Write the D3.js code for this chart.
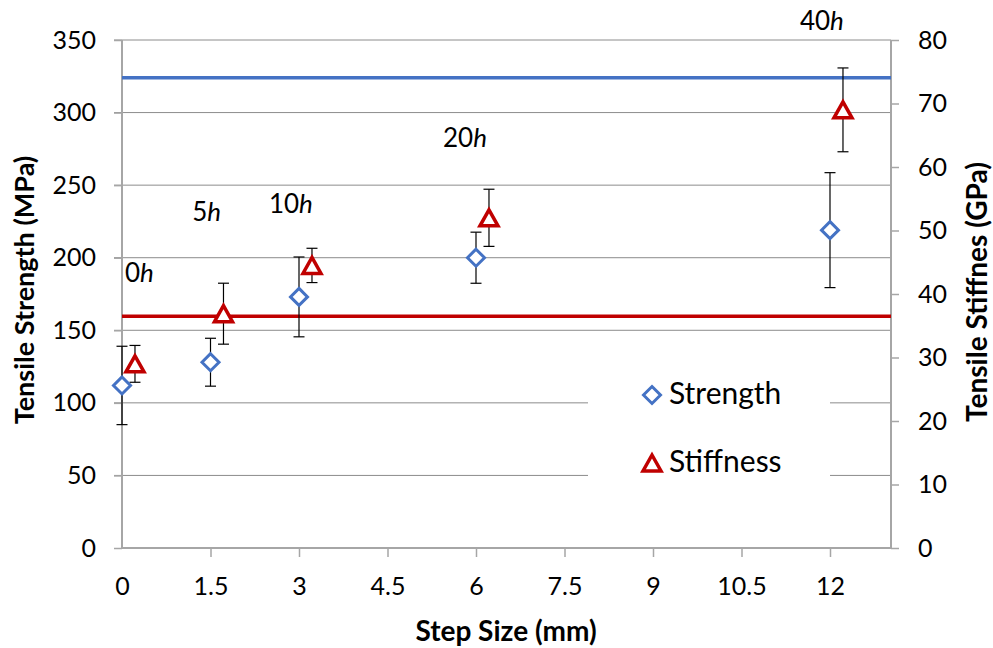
<!DOCTYPE html>
<html><head><meta charset="utf-8">
<script src="https://cdn.jsdelivr.net/npm/d3@7"></script>
<style>body{margin:0;background:#fff}svg{display:block}text{font-family:Lato,"Open Sans",sans-serif}</style>
</head><body><svg id="c" width="993" height="648"></svg>
<script>
const stepSizes = [0, 1.5, 3, 6, 12];
const stiffOffset = 0.22;
const strength = [112, 128, 173, 200, 219];
const strengthErr = [27, 16.5, 27.5, 17.6, 39.6];
const stiffness = [29.0, 36.9, 44.5, 52.0, 69.0];
const stiffnessErr = [2.9, 4.8, 2.7, 4.5, 6.6];
const labels = ["0h", "5h", "10h", "20h", "40h"];
const labelPos = [[0.05, 183.3], [1.19, 225.5], [2.49, 230.6], [5.44, 276.5], [11.49, 357]];
const refStrength = 324;
const refStiffness = 36.5;
const xTicks = [0, 1.5, 3, 4.5, 6, 7.5, 9, 10.5, 12];
const yLeftTicks = [0, 50, 100, 150, 200, 250, 300, 350];
const yRightTicks = [0, 10, 20, 30, 40, 50, 60, 70, 80];

const svg = d3.select("#c");
const L = 122, R = 891, T = 40, B = 548;
const x = d3.scaleLinear().domain([0, 13]).range([L, L + 13 * 59]);
const yL = d3.scaleLinear().domain([0, 350]).range([B, T]);
const yR = d3.scaleLinear().domain([0, 80]).range([B, T]);
const blue = "#4472C4", red = "#C00000", grid = "#8c8c8c", axisC = "#a6a6a6";

// gridlines
svg.append("g").selectAll("line").data(yLeftTicks.filter(d => d > 0)).join("line")
  .attr("x1", L - 8).attr("x2", R).attr("y1", d => yL(d)).attr("y2", d => yL(d))
  .attr("stroke", grid).attr("stroke-width", 1);

// axes
const ax = svg.append("g").attr("transform", `translate(0,${B})`)
  .call(d3.axisBottom(x).tickValues(xTicks).tickSize(9).tickPadding(20).tickFormat(d => String(d)));
const ayl = svg.append("g").attr("transform", `translate(${L},0)`)
  .call(d3.axisLeft(yL).tickValues(yLeftTicks).tickSize(8).tickPadding(18));
const ayr = svg.append("g").attr("transform", `translate(${R},0)`)
  .call(d3.axisRight(yR).tickValues(yRightTicks).tickSize(8).tickPadding(19));
[ax, ayl, ayr].forEach(g => {
  g.select(".domain").remove();
  g.selectAll(".tick line").attr("stroke", axisC).attr("stroke-width", 1.5);
  g.selectAll(".tick text").attr("font-size", 25).attr("fill", "#000");
});
ax.selectAll(".tick line").filter(d => d === 0).remove();
svg.append("line").attr("x1", L).attr("x2", R).attr("y1", B).attr("y2", B).attr("stroke", axisC).attr("stroke-width", 2);
svg.append("line").attr("x1", L).attr("x2", L).attr("y1", T).attr("y2", B).attr("stroke", axisC).attr("stroke-width", 2);
svg.append("line").attr("x1", R).attr("x2", R).attr("y1", T).attr("y2", B).attr("stroke", axisC).attr("stroke-width", 2);

// legend background
const lg = svg.append("g");
lg.append("rect").attr("x", 588).attr("y", 368).attr("width", 242).attr("height", 124).attr("fill", "#fff");

// reference lines
svg.append("line").attr("x1", L).attr("x2", R).attr("y1", yL(refStrength)).attr("y2", yL(refStrength))
  .attr("stroke", blue).attr("stroke-width", 3.5);
svg.append("line").attr("x1", L).attr("x2", R).attr("y1", yR(refStiffness)).attr("y2", yR(refStiffness))
  .attr("stroke", red).attr("stroke-width", 3.5);

// error bars
function errBars(xs, vs, es, y) {
  const g = svg.append("g").attr("stroke", "#000").attr("stroke-width", 1.2);
  xs.forEach((xv, i) => {
    const cx = x(xv), y1 = y(vs[i] + es[i]), y2 = y(vs[i] - es[i]);
    g.append("line").attr("x1", cx).attr("x2", cx).attr("y1", y1).attr("y2", y2);
    g.append("line").attr("x1", cx - 5.5).attr("x2", cx + 5.5).attr("y1", y1).attr("y2", y1);
    g.append("line").attr("x1", cx - 5.5).attr("x2", cx + 5.5).attr("y1", y2).attr("y2", y2);
  });
}
const stiffX = stepSizes.map(d => d + stiffOffset);
errBars(stepSizes, strength, strengthErr, yL);
errBars(stiffX, stiffness, stiffnessErr, yR);

const diamond = "M0,-8.5L8.5,0L0,8.5L-8.5,0Z";
const tri = "M0,-8L9,8L-9,8Z";
svg.append("g").selectAll("path").data(stepSizes).join("path")
  .attr("d", diamond).attr("transform", (d, i) => `translate(${x(d)},${yL(strength[i])})`)
  .attr("fill", "#fff").attr("stroke", blue).attr("stroke-width", 3);
svg.append("g").selectAll("path").data(stiffX).join("path")
  .attr("d", tri).attr("transform", (d, i) => `translate(${x(d)},${yR(stiffness[i])})`)
  .attr("fill", "#fff").attr("stroke", red).attr("stroke-width", 3.5);

// data labels
const lt = svg.append("g").selectAll("text").data(labels).join("text")
  .attr("x", (d, i) => x(labelPos[i][0])).attr("y", (d, i) => yL(labelPos[i][1]))
  .attr("font-size", 26).attr("fill", "#000");
lt.each(function(d) {
  const t = d3.select(this);
  t.append("tspan").text(d.slice(0, -1));
  t.append("tspan").attr("font-style", "italic").text("h");
});

// legend
lg.append("path").attr("d", diamond).attr("transform", "translate(652,395)")
  .attr("fill", "#fff").attr("stroke", blue).attr("stroke-width", 3);
lg.append("text").attr("x", 669).attr("y", 404).attr("font-size", 30).text("Strength");
lg.append("path").attr("d", tri).attr("transform", "translate(652,463)")
  .attr("fill", "#fff").attr("stroke", red).attr("stroke-width", 3.5);
lg.append("text").attr("x", 669).attr("y", 472).attr("font-size", 30).text("Stiffness");

// axis titles
svg.append("text").attr("x", 506).attr("y", 641).attr("text-anchor", "middle")
  .attr("font-size", 28).attr("font-weight", "bold").text("Step Size (mm)");
svg.append("text").attr("transform", "translate(34,290) rotate(-90)").attr("text-anchor", "middle")
  .attr("font-size", 27).attr("font-weight", "bold").text("Tensile Strength (MPa)");
svg.append("text").attr("transform", "translate(987,292) rotate(-90)").attr("text-anchor", "middle")
  .attr("font-size", 28).attr("font-weight", "bold").text("Tensile Stiffnes (GPa)");
</script></body></html>
